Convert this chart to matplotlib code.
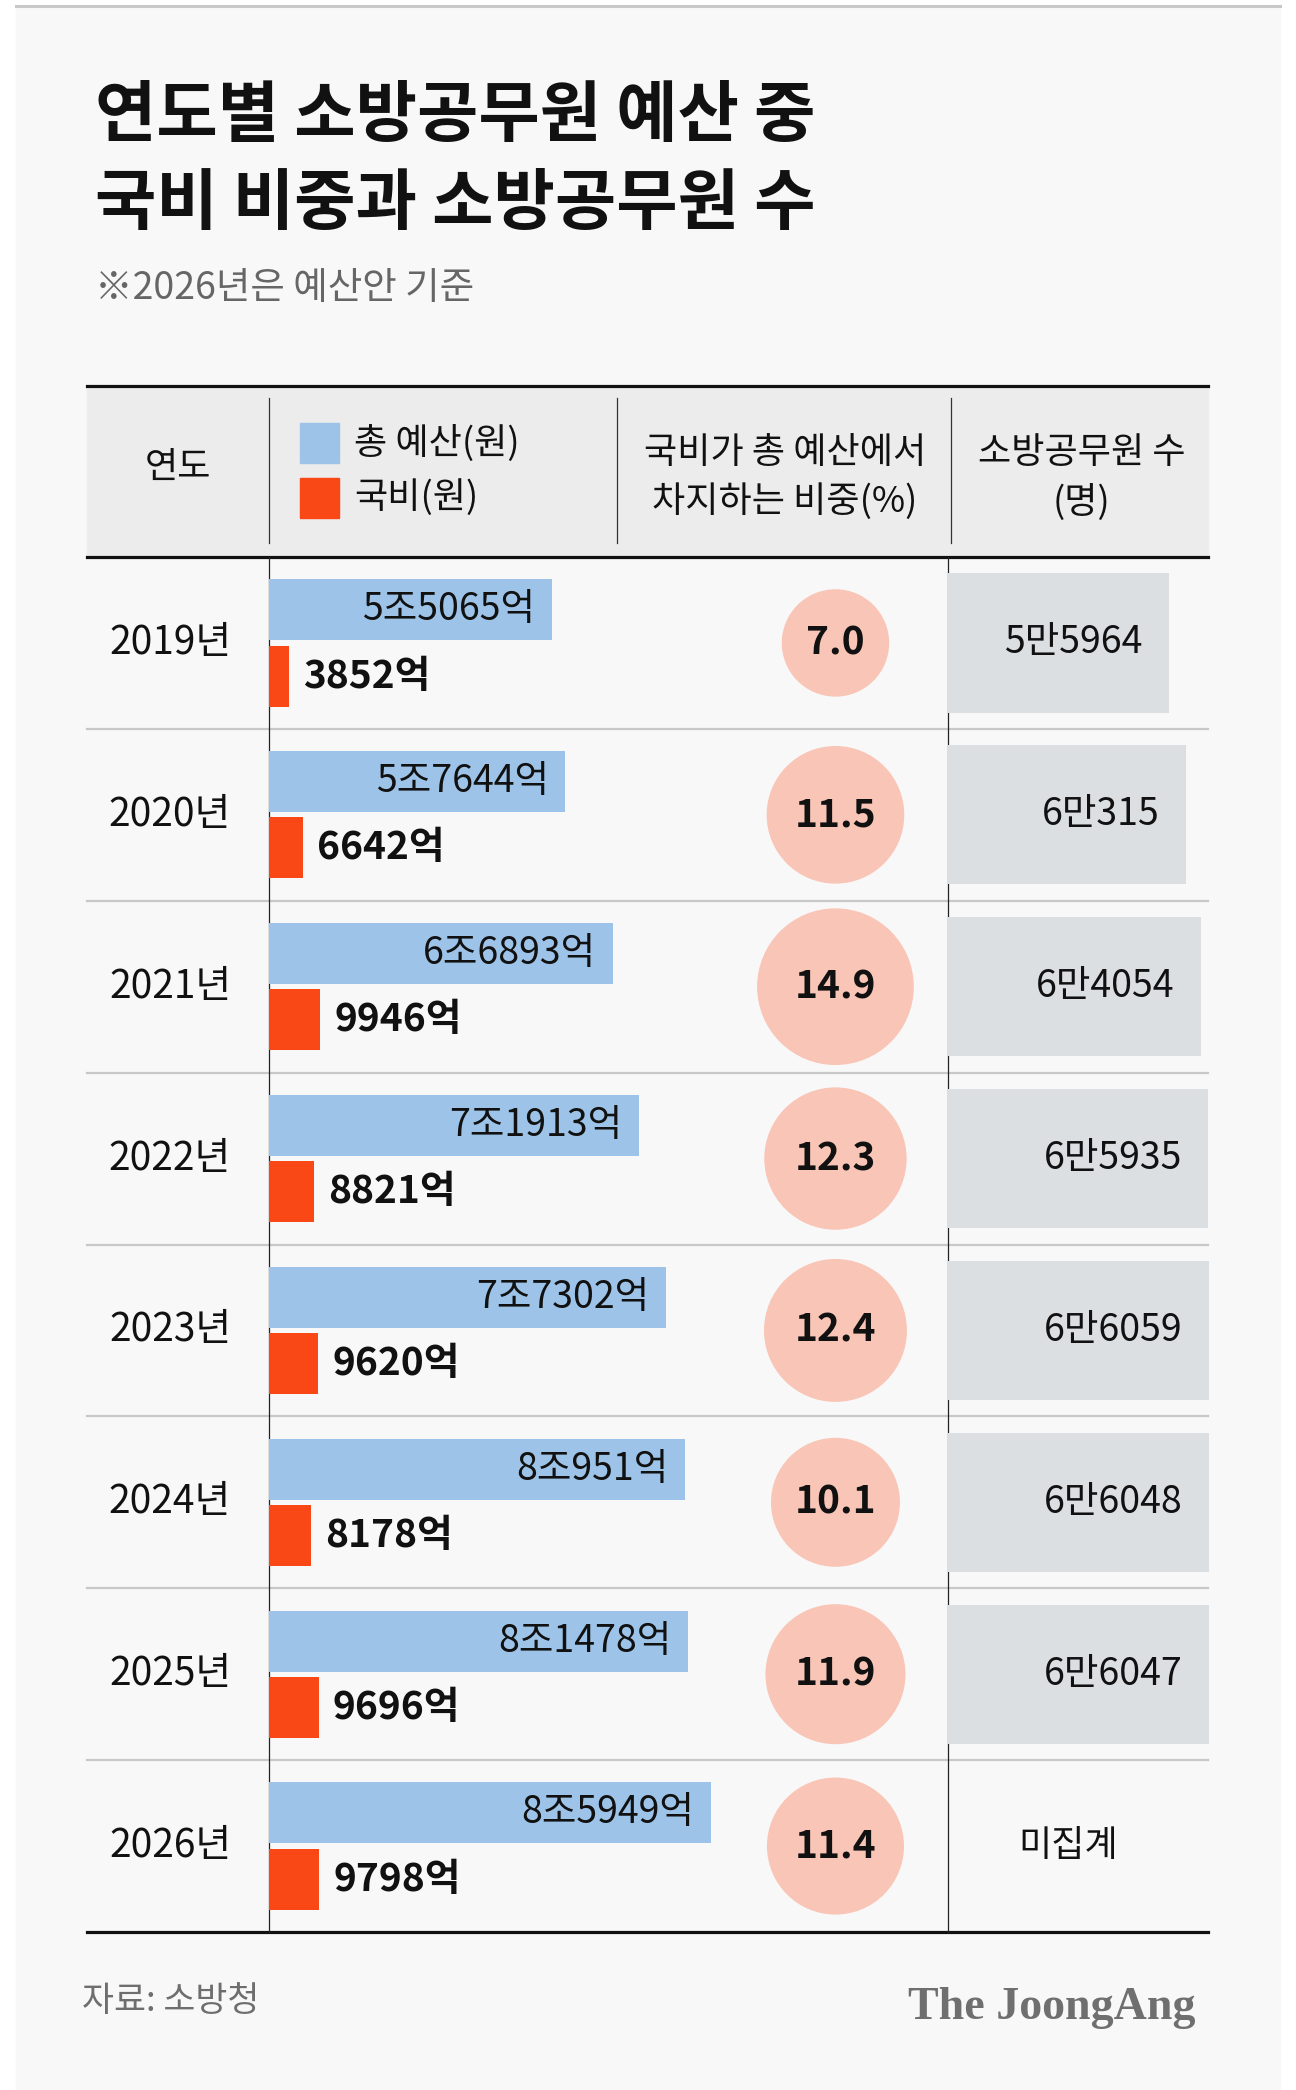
import matplotlib
matplotlib.use("Agg")
import matplotlib.pyplot as plt
from matplotlib.patches import Rectangle

plt.rcParams['font.family'] = ['Noto Sans CJK KR', 'DejaVu Sans']

# data
years = ["2019년", "2020년", "2021년", "2022년", "2023년", "2024년", "2025년", "2026년"]
total_budget = [55065, 57644, 66893, 71913, 77302, 80951, 81478, 85949]   # 억원
total_labels = ["5조5065억", "5조7644억", "6조6893억", "7조1913억",
                "7조7302억", "8조951억", "8조1478억", "8조5949억"]
national = [3852, 6642, 9946, 8821, 9620, 8178, 9696, 9798]              # 억원
national_labels = ["3852억", "6642억", "9946억", "8821억",
                   "9620억", "8178억", "9696억", "9798억"]
share = [7.0, 11.5, 14.9, 12.3, 12.4, 10.1, 11.9, 11.4]                  # %
firefighters = [55964, 60315, 64054, 65935, 66059, 66048, 66047]        # 명 (2026 미집계)
firefighter_labels = ["5만5964", "6만315", "6만4054", "6만5935",
                      "6만6059", "6만6048", "6만6047"]

BLUE = "#9dc4e8"
RED = "#fa4716"
PINK = "#f8c5b6"
GRAY_BAR = "#dcdfe2"
BG = "#f8f8f8"

W, H = 1296, 2090
fig = plt.figure(figsize=(W / 100, H / 100), dpi=100)
fig.patch.set_facecolor("white")

ax = fig.add_axes([0, 0, 1, 1])
ax.set_xlim(0, W)
ax.set_ylim(H, 0)
ax.axis("off")


def fig_rect(x0, y0, x1, y1):
    return [x0 / W, 1 - y1 / H, (x1 - x0) / W, (y1 - y0) / H]


# page background
ax.add_patch(Rectangle((16, 8), 1264, H, color=BG, zorder=0))
ax.plot([16, 1280], [6, 6], color="#c8c8c8", lw=2.2, zorder=1)

# title
ax.text(95, 117, "연도별 소방공무원 예산 중", fontsize=48, fontweight="heavy",
        va="center", ha="left", color="#111111")
ax.text(95, 204, "국비 비중과 소방공무원 수", fontsize=48, fontweight="heavy",
        va="center", ha="left", color="#111111")
ax.text(95, 288, "※2026년은 예산안 기준", fontsize=27, va="center", ha="left",
        color="#666666")

# table frame
L, R = 87, 1208
TOP, BOT = 557, 1932
row_h = (BOT - TOP) / len(years)
ax.add_patch(Rectangle((L, 386), R - L, TOP - 386, color="#ececec", zorder=1))
for y in (386, TOP, BOT):
    ax.plot([L, R], [y, y], color="#111111", lw=2.3, zorder=3)
for k in range(1, len(years)):
    y = TOP + k * row_h
    ax.plot([L, R], [y, y], color="#c8c8c8", lw=1.6, zorder=2)
for x in (269, 948):
    ax.plot([x, x], [TOP, BOT], color="#222222", lw=0.9, zorder=3)
for x in (269, 617, 951):
    ax.plot([x, x], [398, 543], color="#333333", lw=0.9, zorder=3)

# header
hfs = 26
ax.text(178, 468, "연도", fontsize=hfs, ha="center", va="center", color="#111111")
ax.add_patch(Rectangle((300, 423), 39, 40, color=BLUE, zorder=2))
ax.add_patch(Rectangle((300, 478), 39, 40, color=RED, zorder=2))
ax.text(354, 443, "총 예산(원)", fontsize=hfs, ha="left", va="center", color="#111111")
ax.text(354, 498, "국비(원)", fontsize=hfs, ha="left", va="center", color="#111111")
ax.text(785, 453, "국비가 총 예산에서", fontsize=hfs, ha="center", va="center", color="#111111")
ax.text(785, 502, "차지하는 비중(%)", fontsize=hfs, ha="center", va="center", color="#111111")
ax.text(1082, 453, "소방공무원 수", fontsize=hfs, ha="center", va="center", color="#111111")
ax.text(1082, 502, "(명)", fontsize=hfs, ha="center", va="center", color="#111111")

# year labels
for i, yr in enumerate(years):
    ax.text(170, TOP + (i + 0.5) * row_h, yr, fontsize=28, ha="center",
            va="center", color="#111111")

# budget bars
bax = fig.add_axes(fig_rect(269, TOP, 269 + 514, BOT))
bax.set_xlim(0, 100000)
bax.set_ylim(len(years), 0)
bax.axis("off")
bh = 0.355
yb = [i + 0.3075 for i in range(len(years))]
yr_ = [i + 0.6925 for i in range(len(years))]
bax.barh(yb, total_budget, height=bh, left=0, color=BLUE, zorder=2)
bax.barh(yr_, national, height=bh, left=0, color=RED, zorder=2)
for i in range(len(years)):
    bax.annotate(total_labels[i], (total_budget[i], yb[i]), xytext=(-12, 0),
                 textcoords="offset points", ha="right", va="center",
                 fontsize=27, color="#111111")
    bax.annotate(national_labels[i], (national[i], yr_[i]), xytext=(10, 0),
                 textcoords="offset points", ha="left", va="center",
                 fontsize=28, fontweight="heavy", color="#111111")

# share circles (area proportional)
cax = fig.add_axes(fig_rect(617, TOP, 948, BOT))
cax.set_xlim(0, 1)
cax.set_ylim(len(years), 0)
cax.axis("off")
cy = [i + 0.5 for i in range(len(years))]
cax.scatter([0.66] * len(share), cy, s=[854 * v for v in share], color=PINK,
            edgecolors="none", zorder=2)
for i, v in enumerate(share):
    cax.text(0.66, cy[i], f"{v:.1f}", fontsize=28, fontweight="heavy",
             ha="center", va="center", color="#111111", zorder=3)

# firefighter bars
nmax = 66500
nax = fig.add_axes(fig_rect(948, TOP, 948 + 0.00395 * nmax, BOT))
nax.set_xlim(0, nmax)
nax.set_ylim(len(years), 0)
nax.axis("off")
ny = [i + 0.5 for i in range(len(firefighters))]
nax.barh(ny, firefighters, height=0.81, color=GRAY_BAR, zorder=1)
for i, v in enumerate(firefighters):
    nax.annotate(firefighter_labels[i], (v, ny[i]), xytext=(-19, 0),
                 textcoords="offset points", ha="right", va="center",
                 fontsize=27, color="#111111")
ax.text(1068, TOP + 7.5 * row_h, "미집계", fontsize=26, fontweight="medium",
        ha="center", va="center", color="#111111")

# footer
ax.text(82, 2002, "자료: 소방청", fontsize=25, fontweight="medium", ha="left",
        va="center", color="#6e6e6e")
ax.text(1195, 2008, "The JoongAng", fontsize=33, fontweight="bold",
        family="Liberation Serif", ha="right", va="center", color="#6f6f6f")

fig.savefig("out.png", dpi=100, facecolor=fig.get_facecolor())
